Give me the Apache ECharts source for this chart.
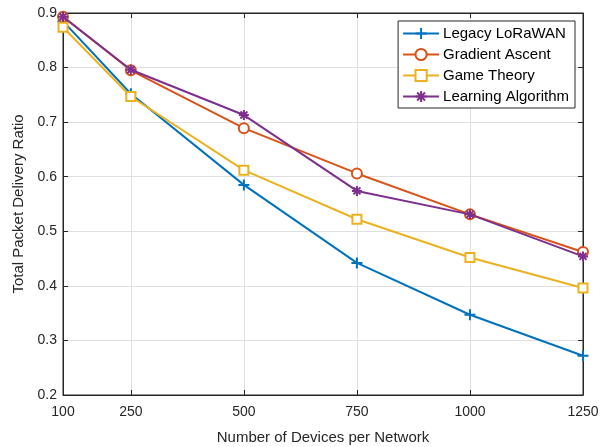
<!DOCTYPE html>
<html><head><meta charset="utf-8">
<script src="https://cdn.jsdelivr.net/npm/echarts@6/dist/echarts.min.js"></script>
<style>html,body{margin:0;padding:0;background:#fff}#c{width:601px;height:447px}</style>
</head><body><div id="c"></div>
<script>
const devices = [100, 250, 500, 750, 1000, 1250];
const xTicks = [100, 250, 500, 750, 1000, 1250];
const legacyLoRaWAN = [0.885, 0.752, 0.585, 0.442, 0.347, 0.272];
const gradientAscent = [0.893, 0.795, 0.689, 0.606, 0.531, 0.462];
const gameTheory = [0.874, 0.747, 0.612, 0.522, 0.452, 0.396];
const learningAlgorithm = [0.893, 0.796, 0.713, 0.574, 0.531, 0.454];
const seriesNames = ['Legacy LoRaWAN', 'Gradient Ascent', 'Game Theory', 'Learning Algorithm'];
const colors = ['#0072BD', '#D95319', '#EDB120', '#7E2F8E'];

const FONT = 'Liberation Sans';
const plusPath = 'path://M0,5L10,5M5,0L5,10';
const starPath = 'path://M0,5L10,5M5,0L5,10M1.5,1.5L8.5,8.5M1.5,8.5L8.5,1.5';
const symbols = [plusPath, 'emptyCircle', 'emptyRect', starPath];
const sizes = [11, 10, 9, 10];
const dataSets = [legacyLoRaWAN, gradientAscent, gameTheory, learningAlgorithm];

const chart = echarts.init(document.getElementById('c'), null, {renderer: 'canvas'});
const axisCol = '#262626';
chart.setOption({
  animation: false,
  backgroundColor: '#fff',
  grid: {left: 63, right: 18, top: 13, bottom: 52, outerBoundsMode: 'none', containLabel: false,
         show: true, borderColor: axisCol, borderWidth: 1, backgroundColor: 'transparent'},
  legend: {
    orient: 'vertical', right: 26, top: 21,
    backgroundColor: '#fff', borderColor: axisCol, borderWidth: 1,
    padding: [5, 6, 4, 4], itemGap: 6, itemWidth: 36, itemHeight: 14,
    textStyle: {fontFamily: FONT, fontSize: 15, color: '#000', padding: [0, 0, 0, -1]},
    data: seriesNames
  },
  xAxis: [{
    type: 'value', min: 100, max: 1250,
    name: 'Number of Devices per Network', nameLocation: 'middle', nameGap: 35,
    nameTextStyle: {fontFamily: FONT, fontSize: 15, color: axisCol},
    axisLine: {show: true, lineStyle: {color: axisCol, width: 1}},
    axisTick: {show: true, inside: true, length: 5, customValues: xTicks, lineStyle: {color: axisCol}},
    axisLabel: {customValues: xTicks, fontFamily: FONT, fontSize: 14, color: axisCol, margin: 10, formatter: v => String(v)},
    splitLine: {show: true, lineStyle: {color: '#dfdfdf', width: 1}}
  }, {
    type: 'value', min: 100, max: 1250, position: 'top',
    axisLine: {show: true, lineStyle: {color: axisCol}},
    axisTick: {show: true, inside: true, length: 5, customValues: xTicks, lineStyle: {color: axisCol}},
    axisLabel: {show: false}, splitLine: {show: false}
  }],
  yAxis: [{
    type: 'value', min: 0.2, max: 0.9, interval: 0.1,
    name: 'Total Packet Delivery Ratio', nameLocation: 'middle', nameGap: 34,
    nameTextStyle: {fontFamily: FONT, fontSize: 15, color: axisCol},
    axisLine: {show: true, lineStyle: {color: axisCol, width: 1}},
    axisTick: {show: true, inside: true, length: 5, lineStyle: {color: axisCol}},
    axisLabel: {fontFamily: FONT, fontSize: 14, color: axisCol, margin: 6, formatter: v => v.toFixed(1)},
    splitLine: {show: true, lineStyle: {color: '#dfdfdf', width: 1}}
  }, {
    type: 'value', min: 0.2, max: 0.9, interval: 0.1, position: 'right',
    axisLine: {show: true, lineStyle: {color: axisCol}},
    axisTick: {show: true, inside: true, length: 5, lineStyle: {color: axisCol}},
    axisLabel: {show: false}, splitLine: {show: false}
  }],
  series: seriesNames.map((n, i) => ({
    name: n, type: 'line',
    data: devices.map((d, j) => [d, dataSets[i][j]]),
    symbol: symbols[i], symbolSize: sizes[i], showAllSymbol: true,
    lineStyle: {color: colors[i], width: 2},
    itemStyle: {color: colors[i], borderColor: colors[i], borderWidth: 2},
    z: 2 + i
  }))
});
</script></body></html>
